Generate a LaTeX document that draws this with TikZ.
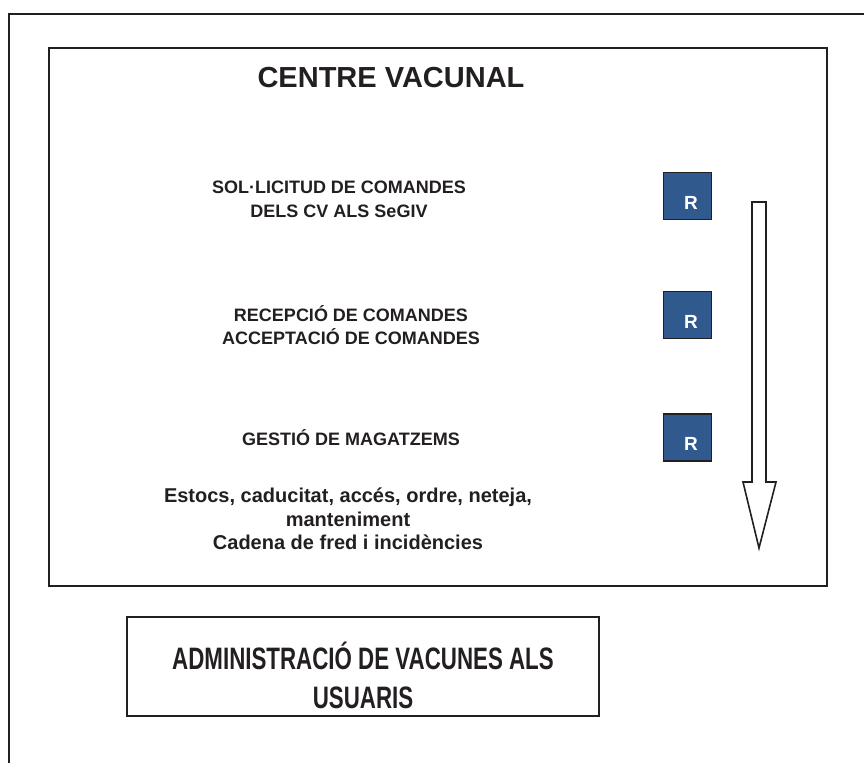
\documentclass[tikz,border=0pt]{standalone}
\usepackage{fontspec}
\setmainfont{Liberation Sans}
\newfontfamily\narrowfont[FakeStretch=0.72]{Liberation Sans}
\definecolor{linecol}{RGB}{35,31,32}
\definecolor{rblue}{RGB}{48,89,142}
\tikzset{
  frame/.style={draw=linecol, line width=2pt},
  txt/.style={align=center, inner sep=0pt, text=linecol, font=\bfseries\fontsize{18}{23.5}\selectfont},
  rlab/.style={text=white, inner sep=0pt, font=\bfseries\fontsize{19}{20}\selectfont},
  rbox/.style={draw=linecol, line width=1.5pt, fill=rblue, minimum width=48pt, minimum height=47pt, inner sep=0pt},
}
\begin{document}
\begin{tikzpicture}[x=1pt,y=-1pt]
\useasboundingbox (0,0) rectangle (864,763);
\draw[frame] (9,763) -- (9,14) -- (864,14);
\node[frame, minimum width=778pt, minimum height=538pt, inner sep=0pt] (cv) at (438,317) {};
\node[txt, font=\bfseries\fontsize{29}{32}\selectfont] (title) at (391,78) {CENTRE VACUNAL};
\node[txt] (sol) at (339,199.5) {SOL·LICITUD DE COMANDES\\DELS CV ALS SeGIV};
\node[txt] (rec) at (351,325) {RECEPCIÓ DE COMANDES\\ACCEPTACIÓ DE COMANDES};
\node[txt] (ges) at (351,438) {GESTIÓ DE MAGATZEMS};
\node[txt, font=\bfseries\fontsize{20}{23.5}\selectfont] (est) at (348,519) {Estocs, caducitat, accés, ordre, neteja,\\manteniment\\Cadena de fred i incidències};
\node[rbox, label={[rlab, xshift=3.5pt, yshift=-6.5pt]center:R}] (r1) at (687.5,196) {};
\node[rbox, label={[rlab, xshift=3.5pt, yshift=-6.5pt]center:R}] (r2) at (687.5,315) {};
\node[rbox, label={[rlab, xshift=3.5pt, yshift=-6.5pt]center:R}] (r3) at (687.5,437.5) {};
\draw[draw=linecol, line width=1.6pt, fill=white, line join=miter]
  (752,202) -- (766,202) -- (766,482) -- (776,482) -- (759,548) -- (743,482) -- (752,482) -- cycle;
\node[frame, minimum width=472pt, minimum height=99pt, inner sep=0pt] (adm) at (363,666.5) {};
\node[txt, font=\narrowfont\bfseries\fontsize{31}{39}\selectfont] (admt) at (363,675) {ADMINISTRACIÓ DE VACUNES ALS\\USUARIS};
\end{tikzpicture}
\end{document}
